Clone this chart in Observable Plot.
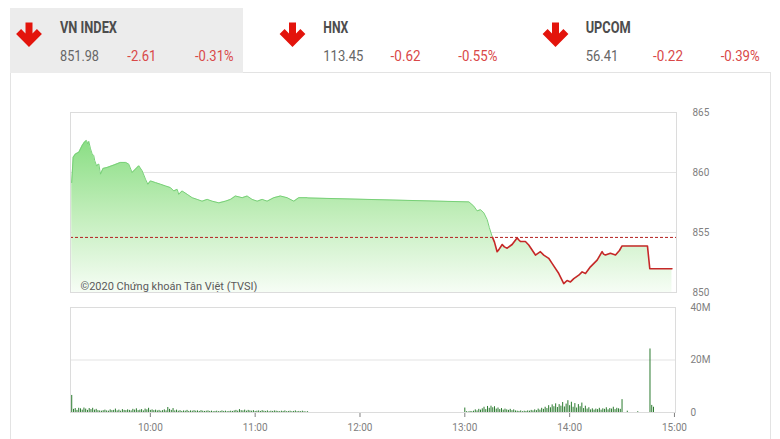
<!DOCTYPE html>
<html><head><meta charset="utf-8">
<script src="https://cdn.jsdelivr.net/npm/d3@7"></script>
<script src="https://cdn.jsdelivr.net/npm/@observablehq/plot@0.6"></script>
<style>
html,body{margin:0;padding:0;background:#fff;}
body{width:780px;height:439px;position:relative;overflow:hidden;font-family:Roboto,"Noto Sans",sans-serif;}
#card{position:absolute;left:10px;top:72px;width:761px;height:420px;border:1px solid #e3e3e3;box-sizing:border-box;}
#head{position:absolute;left:0;top:0;}
#main{position:absolute;left:0;top:100px;}
#vol{position:absolute;left:0;top:295px;}
</style></head><body>
<div id="card"></div>
<svg id="head" width="780" height="75"></svg>
<div id="main"></div>
<div id="vol"></div>
<script>
// ---- data ----
const indexNames = ["VN INDEX", "HNX", "UPCOM"];
const indexValues = ["851.98", "113.45", "56.41"];
const indexChanges = ["-2.61", "-0.62", "-0.22"];
const indexPcts = ["-0.31%", "-0.55%", "-0.39%"];
const prevClose = 854.59;
const priceTimes = [
  "9:15:00","9:15:50","9:17:10","9:19:05","9:21:00","9:22:15","9:23:25","9:24:10","9:24:45","9:25:45",
  "9:26:40","9:27:35","9:28:10","9:29:10","9:30:30","9:31:25","9:32:55","9:35:15","9:39:05","9:42:50",
  "9:45:45","9:47:35","9:49:30","9:51:25","9:53:20","9:55:15","9:57:10","9:58:30","10:00:00","10:02:50",
  "10:05:45","10:08:35","10:11:25","10:13:20","10:15:15","10:16:10","10:18:05","10:21:00","10:23:50","10:26:40",
  "10:29:30","10:32:25","10:35:15","10:39:05","10:42:50","10:45:45","10:48:35","10:52:25","10:55:15","10:58:05",
  "11:01:00","11:03:50","11:06:40","11:10:30","11:14:15","11:18:05","11:21:55","11:24:45","11:29:30","11:30:00",
  "13:02:00","13:04:45","13:06:40","13:08:35","13:10:30","13:12:25","13:13:40","13:15:15","13:16:35","13:18:05",
  "13:19:00","13:21:00","13:22:15","13:23:50","13:26:40","13:29:30","13:30:25","13:31:25","13:34:15","13:36:10",
  "13:40:00","13:42:50","13:44:45","13:47:35","13:49:30","13:53:20","13:56:10","13:58:05","14:00:00","14:01:55",
  "14:04:45","14:06:40","14:08:35","14:11:25","14:15:15","14:18:05","14:18:55","14:20:00","14:22:50","14:25:45",
  "14:28:00","14:29:30","14:44:00","14:45:20","14:58:00"
];
const priceValues = [
  859.16,861.27,861.55,861.69,862.25,862.53,862.67,862.39,862.59,861.97,
  861.55,861.41,860.98,860.56,860.70,859.86,860.34,860.42,860.62,860.84,
  860.84,860.70,860.00,860.28,860.56,860.14,859.44,859.02,859.30,859.16,
  859.02,858.88,858.74,858.46,858.60,858.18,858.46,858.18,857.90,857.76,
  857.61,857.76,857.61,857.47,857.61,857.76,858.04,857.90,858.04,857.76,
  857.61,857.76,857.61,857.90,858.04,857.90,857.61,857.90,857.90,857.88,
  857.55,857.20,856.80,856.90,856.64,856.07,855.40,854.67,854.20,853.40,
  853.55,854.00,853.80,853.69,854.00,854.55,854.40,854.25,854.25,853.96,
  853.12,853.40,853.12,852.85,852.43,851.58,850.74,851.00,850.88,851.15,
  851.44,851.72,851.58,852.14,852.70,853.40,853.20,853.12,853.27,853.12,
  853.50,853.88,853.88,851.98,851.98
];
const yTicks = [850, 855, 860, 865];
const volTicks = [0, 20, 40];
const hourTicks = ["10:00", "11:00", "12:00", "13:00", "14:00", "15:00"];
const volMorningStart = "9:15";
const volMorning = [
  6.5,
  1.2,1.5,0.8,1.6,1.4,0.9,1.7,1.3,0.8,1.5,1.1,1.6,0.9,1.2,0.7,
  0.6,0.5,0.7,0.9,0.6,0.5,1.0,0.7,0.8,1.3,0.6,0.9,0.5,1.1,0.8,
  0.7,1.0,0.8,0.6,1.2,0.9,1.4,0.7,0.9,1.1,0.6,1.3,1.0,1.6,0.8,
  1.0,0.7,0.9,0.6,0.8,0.5,0.7,1.0,0.6,1.9,1.2,0.8,1.5,0.6,0.9,
  0.5,0.7,0.4,0.6,0.5,0.8,0.4,0.6,0.5,0.7,0.5,0.6,0.4,0.7,0.5,
  0.4,0.5,0.6,0.4,0.5,0.3,0.4,0.5,0.3,0.4,0.6,0.4,0.5,0.3,0.4,
  0.5,0.4,0.6,0.8,0.5,1.1,0.7,0.6,0.9,0.5,0.8,0.6,0.5,0.7,0.4,
  0.5,0.6,0.4,0.7,0.5,0.4,0.6,0.3,0.5,0.4,0.6,0.5,0.4,0.3,0.5,
  0.4,0.6,0.3,0.4,0.5,0.3,0.4,0.6,0.3,0.4,0.3,0.5,0.3,0.2,0.3
];
const volAfternoonStart = "13:00";
const volAfternoon = [
  1.7,0.3,0.2,0.4,0.3,0.5,1.0,0.6,1.2,0.9,1.4,2.0,1.1,2.3,1.6,
  2.4,1.8,2.2,1.3,1.7,1.1,1.5,0.9,1.3,1.0,0.8,1.2,0.7,1.0,0.6,
  0.5,0.4,0.6,0.3,0.5,0.4,0.6,0.5,0.8,0.6,1.0,0.7,1.3,0.9,1.6,
  1.2,2.0,1.5,2.6,1.8,2.9,2.2,3.3,1.9,3.0,2.4,3.8,2.1,3.2,4.5,
  2.6,3.9,2.0,3.4,1.7,3.0,2.2,3.6,1.5,2.4,1.3,1.8,1.0,1.4,0.9,
  1.3,1.1,1.6,0.9,1.4,1.2,1.8,1.0,1.5,1.3,2.0,1.1,1.6,1.4,1.2,
  4.9
];
const volLateTimes = ["14:33", "14:39", "14:46", "14:47", "14:48"];
const volLateValues = [0.5, 0.3, 24.2, 2.7, 2.0];
const watermark = "©2020 Chứng khoán Tân Việt (TVSI)";

// ---- helpers ----
const toMin = s => { const [h, m, sec = 0] = s.split(":").map(Number); return h * 60 + m + sec / 60; };
const fmtHM = m => `${Math.floor(m / 60)}:${String(Math.round(m % 60)).padStart(2, "0")}`;

// ---- header ----
const head = d3.select("#head");
head.append("rect").attr("x", 10).attr("y", 8).attr("width", 233).attr("height", 65).attr("fill", "#ececec");
const colX = [60, 323.3, 585.7];
const arrowX = [16.5, 280, 543];
const nameW = [57, 25, 45], valW = [39, 40, 32.6], chgW = [29, 30, 30], pctW = [38.5, 39, 39];
indexNames.forEach((name, i) => {
  const a = arrowX[i];
  head.append("path")
    .attr("d", `M${a+9},22.5 L${a+16},22.5 L${a+16},33.5 L${a+20.4},29.1 L${a+25.4},34.1 L${a+12.5},47 L${a-0.4},34.1 L${a+4.6},29.1 L${a+9},33.5 Z`)
    .attr("fill", "#e3140c");
  const x = colX[i];
  head.append("text").attr("x", x).attr("y", 33.3).text(name)
    .attr("font-family", "Roboto").attr("font-weight", 700).attr("font-size", 16).attr("fill", "#4d4d4d")
    .attr("textLength", nameW[i]).attr("lengthAdjust", "spacingAndGlyphs");
  head.append("text").attr("x", x).attr("y", 60.7).text(indexValues[i])
    .attr("font-family", "Roboto").attr("font-size", 15).attr("fill", "#666")
    .attr("textLength", valW[i]).attr("lengthAdjust", "spacingAndGlyphs");
  head.append("text").attr("x", x + 67.3).attr("y", 60.7).text(indexChanges[i])
    .attr("font-family", "Roboto").attr("font-size", 15).attr("fill", "#d94848")
    .attr("textLength", chgW[i]).attr("lengthAdjust", "spacingAndGlyphs");
  head.append("text").attr("x", x + 135).attr("y", 60.7).text(indexPcts[i])
    .attr("font-family", "Roboto").attr("font-size", 15).attr("fill", "#d94848")
    .attr("textLength", pctW[i]).attr("lengthAdjust", "spacingAndGlyphs");
});

// ---- price data ----
const price = priceTimes.map((s, i) => ({t: toMin(s), v: priceValues[i]}));
const segs = []; let cur = null;
price.forEach((p, i) => {
  const up = p.v >= prevClose;
  if (!cur) { cur = {up, pts: [p]}; segs.push(cur); return; }
  if (up !== cur.up) {
    const q = price[i - 1], f = (prevClose - q.v) / (p.v - q.v);
    const c = {t: q.t + f * (p.t - q.t), v: prevClose};
    cur.pts.push(c); cur = {up, pts: [c, p]}; segs.push(cur);
  } else cur.pts.push(p);
});
const lineData = segs.flatMap((s, k) => s.pts.map(p => ({...p, k, up: s.up})));

const xDomain = [554.3, 900.6];
const yDomain = [yTicks[0], yTicks[yTicks.length - 1]];

const mainPlot = Plot.plot({
  width: 780, height: 200,
  marginLeft: 70, marginRight: 104, marginTop: 12, marginBottom: 8,
  style: {fontFamily: "Roboto", fontSize: "10px", color: "#808080", background: "transparent", overflow: "visible"},
  x: {domain: xDomain, axis: null},
  y: {domain: yDomain, axis: "right", ticks: yTicks, tickSize: 0, tickPadding: 16, label: null},
  marks: [
    Plot.ruleY(yTicks.slice(1, -1), {stroke: "#e3e3e3"}),
    Plot.areaY(price, {x: "t", y1: () => yDomain[0], y2: "v", fill: "url(#areaGrad)"}),
    Plot.ruleY([prevClose], {stroke: "#b52020", strokeDasharray: "3,2", strokeWidth: 1}),
    Plot.line(lineData.filter(d => d.up), {x: "t", y: "v", z: "k", stroke: "#78d078", strokeWidth: 1}),
    Plot.line(lineData.filter(d => !d.up), {x: "t", y: "v", z: "k", stroke: "#c62828", strokeWidth: 1.6}),
    Plot.text([watermark], {frameAnchor: "bottom-left", text: d => d, dx: 10, dy: -3, textAnchor: "start", lineAnchor: "bottom", fill: "#5a5a5a", fontSize: 11}),
    Plot.frame({stroke: "#dcdcdc"})
  ]
});
d3.select(mainPlot).insert("defs", ":first-child").html(
  `<linearGradient id="areaGrad" x1="0" y1="0" x2="0" y2="1">
     <stop offset="0" stop-color="#8ade84"/>
     <stop offset="0.5" stop-color="#c3eebc"/>
     <stop offset="1" stop-color="#f6fdf5"/>
   </linearGradient>`);
document.getElementById("main").appendChild(mainPlot);

// ---- volume ----
const vols = [
  ...volMorning.map((v, i) => ({t: toMin(volMorningStart) + i, v})),
  ...volAfternoon.map((v, i) => ({t: toMin(volAfternoonStart) + i, v})),
  ...volLateTimes.map((s, i) => ({t: toMin(s), v: volLateValues[i]}))
];
const volPlot = Plot.plot({
  width: 780, height: 145,
  marginLeft: 70, marginRight: 105, marginTop: 12, marginBottom: 28,
  style: {fontFamily: "Roboto", fontSize: "10px", color: "#808080", background: "transparent", overflow: "visible"},
  x: {domain: xDomain, ticks: hourTicks.map(toMin), tickFormat: fmtHM, tickSize: 5, tickPadding: 6, label: null},
  y: {domain: [volTicks[0], volTicks[volTicks.length - 1]], axis: "right", ticks: volTicks,
      tickFormat: d => d === 0 ? "0" : d + "M", tickSize: 0, tickPadding: 15, label: null},
  marks: [
    Plot.ruleY(volTicks.slice(1, -1), {stroke: "#e3e3e3"}),
    Plot.ruleX(vols, {x: "t", y1: 0, y2: "v", stroke: "#2a7a2e", strokeWidth: 1}),
    Plot.frame({stroke: "#dcdcdc"})
  ]
});
document.getElementById("vol").appendChild(volPlot);
</script>
</body></html>
